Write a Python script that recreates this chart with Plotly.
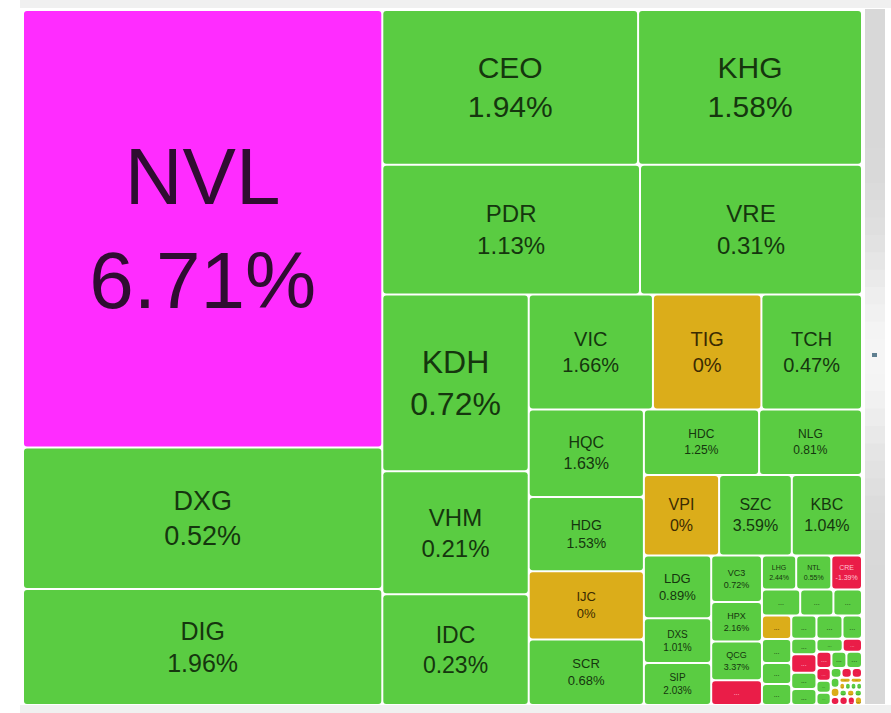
import math
import plotly.graph_objects as go

# ---------------- data ----------------
# nested groups (id, parent) – the tiles are partitioned alternately in columns / rows
groups = [
    ("root", ""),
    ("A", "root"), ("B", "root"),
    ("B1", "B"), ("B2", "B"), ("B3", "B"),
    ("C1", "B3"), ("C2", "B3"),
    ("D1", "C2"), ("D2", "C2"),
    ("E1", "D2"), ("E2", "D2"),
    ("F1", "E2"), ("F2", "E2"), ("F3", "E2"),
    ("G1", "F3"), ("G2", "F3"), ("G3", "F3"),
    ("H1", "G3"), ("H2", "G3"), ("H3", "G3"),
    ("I1", "H3"), ("I2", "H3"), ("I3", "H3"),
    ("J1", "I3"), ("J2", "I3"), ("J3", "I3"), ("J4", "I3"),
    ("K1", "J4"), ("K2", "J4"),
    ("L1", "K2"), ("L2", "K2"),
    ("M1", "L2"), ("M2", "L2"),
    ("N1", "M2"), ("N2", "M2"), ("N3", "M2"), ("N4", "M2"),
]

tickers = ["NVL", "DXG", "DIG",
           "CEO", "KHG",
           "PDR", "VRE",
           "KDH", "VHM", "IDC",
           "VIC", "TIG", "TCH",
           "HQC", "HDG", "IJC", "SCR",
           "HDC", "NLG",
           "VPI", "SZC", "KBC",
           "LDG", "DXS", "SIP",
           "VC3", "HPX", "QCG", None,
           "LHG", "NTL", "CRE",
           None, None, None,
           None, None, None, None,
           None, None, None, None, None,
           None, None,
           None, None,
           None, None, None,
           None, None, None,
           None, None, None,
           None, None, None,
           None, None,
           None, None, None, None,
           None, None, None,
           None, None, None]
changes = [6.71, 0.52, 1.96,
           1.94, 1.58,
           1.13, 0.31,
           0.72, 0.21, 0.23,
           1.66, 0, 0.47,
           1.63, 1.53, 0, 0.68,
           1.25, 0.81,
           0, 3.59, 1.04,
           0.89, 1.01, 2.03,
           0.72, 2.16, 3.37, None,
           2.44, 0.55, -1.39] + [None] * 42
values = [1561, 505, 414,
          393, 344,
          332, 286,
          257, 179, 161,
          142, 124, 115,
          100, 85, 78, 75,
          75, 67,
          60, 58, 56,
          42, 30, 28,
          23.5, 19.9, 19.5, 12.5,
          11.6, 11.9, 10.4,
          9.9, 8.6, 7.4,
          6.8, 7.0, 6.1, 6.1,
          5.8, 3.9, 4.6, 4.1, 4.0,
          6.0, 4.5,
          3.4, 2.5,
          2.4, 2.4, 2.5,
          1.8, 1.7, 1.75,
          1.05, 1.0, 1.0,
          0.85, 0.8, 0.7,
          0.55, 0.55,
          0.4, 0.4, 0.4, 0.4,
          0.5, 0.5, 0.5,
          0.7, 0.6, 0.6]
status = ["ceil", "up", "up",
          "up", "up",
          "up", "up",
          "up", "up", "up",
          "up", "ref", "up",
          "up", "up", "ref", "up",
          "up", "up",
          "ref", "up", "up",
          "up", "up", "up",
          "up", "up", "up", "down",
          "up", "up", "down",
          "up", "up", "up",
          "ref", "up", "up", "up",
          "up", "up", "down", "up", "up",
          "up", "up",
          "up", "down",
          "down", "up", "up",
          "down", "up", "up",
          "up", "down", "down",
          "up", "ref", "down",
          "ref", "ref",
          "ref", "up", "up", "up",
          "up", "ref", "up",
          "down", "down", "ref"]
group_of = (["A"] * 3 + ["B1"] * 2 + ["B2"] * 2 + ["C1"] * 3 + ["D1"] * 3 + ["E1"] * 4
            + ["F1"] * 2 + ["F2"] * 3 + ["G1"] * 3 + ["G2"] * 4 + ["H1"] * 3 + ["H2"] * 3
            + ["I1"] * 4 + ["I2"] * 5 + ["J1"] * 2 + ["J2"] * 2 + ["J3"] * 3 + ["K1"] * 3
            + ["L1"] * 3 + ["M1"] * 3 + ["N1"] * 2 + ["N2"] * 4 + ["N3"] * 3 + ["N4"] * 3)

# ---------------- styles ----------------
FILL = {"ceil": "#ff2cff", "up": "#5acc42", "ref": "#dbad1a", "down": "#ea1d48"}
INK = {"ceil": "#2f0d31", "up": "#15360e", "ref": "#3b2b02", "down": "#ffc4d0"}
FONT = {"NVL": 80, "DXG": 27, "DIG": 25, "CEO": 30, "KHG": 30, "PDR": 24, "VRE": 24,
        "KDH": 32, "VHM": 24, "IDC": 23, "VIC": 20, "TIG": 20, "TCH": 20,
        "HQC": 16, "HDG": 14, "IJC": 13, "SCR": 13, "HDC": 12, "NLG": 12,
        "VPI": 16, "SZC": 16, "KBC": 16, "LDG": 13, "DXS": 10, "SIP": 10,
        "VC3": 9, "HPX": 9, "QCG": 9, "LHG": 7, "NTL": 7, "CRE": 7}

ids, parents, labels, vals, colors, texts, sizes, inks = [], [], [], [], [], [], [], []
for gid, par in groups:
    ids.append(gid); parents.append(par); labels.append(gid); vals.append(0)
    colors.append("#ffffff"); texts.append(" "); sizes.append(10); inks.append("#000")

for i, (t, c, v, s, g) in enumerate(zip(tickers, changes, values, status, group_of)):
    ids.append(t if t else f"x{i}")
    parents.append(g)
    labels.append(t if t else "...")
    vals.append(v)
    colors.append(FILL[s])
    inks.append(INK[s])
    if t:
        texts.append(f"{t}<br>{c:g}%")
        sizes.append(FONT[t])
    else:
        texts.append("...")
        sizes.append(7)

W, H = 891, 713
fig = go.Figure(go.Treemap(
    ids=ids, parents=parents, labels=labels, values=vals,
    branchvalues="remainder", sort=False,
    text=texts, textinfo="text",
    textposition="middle center",
    textfont=dict(family="Liberation Sans, Arial, sans-serif", size=sizes, color=inks),
    marker=dict(colors=colors, line=dict(width=0, color="#ffffff"),
                pad=dict(t=0, l=0, r=0, b=0), cornerradius=3, depthfade=False),
    tiling=dict(packing="slice-dice", pad=2),
    pathbar=dict(visible=False),
    hoverinfo="skip",
    domain=dict(x=[24 / W, 861 / W], y=[1 - 704 / H, 1 - 11 / H]),
))


def px(x):
    return x / W


def py(y):
    return 1 - y / H


shapes = [
    dict(type="rect", xref="paper", yref="paper", x0=px(20), x1=px(891), y0=py(0), y1=py(8),
         fillcolor="#f0f0f0", line=dict(width=0), layer="below"),
    dict(type="rect", xref="paper", yref="paper", x0=px(20), x1=px(891), y0=py(705), y1=py(713),
         fillcolor="#f0f0f0", line=dict(width=0), layer="below"),
]
# scrollbar with soft vertical highlight (overlapping bands)
n = 40
y_top, y_bot = 9, 704
for k in range(n):
    a = y_top + (y_bot - y_top) * k / n
    b = y_top + (y_bot - y_top) * (k + 1) / n
    mid = (a + b) / 2
    lv = int(216 + 30 * math.exp(-((mid - 356) / 110) ** 2))
    shapes.append(dict(type="rect", xref="paper", yref="paper", x0=px(865), x1=px(885),
                       y0=py(min(b + 2, y_bot)), y1=py(a), fillcolor=f"rgb({lv},{lv},{lv})",
                       line=dict(width=0), layer="below"))
shapes.append(dict(type="rect", xref="paper", yref="paper", x0=px(872), x1=px(877),
                   y0=py(357), y1=py(353), fillcolor="#5f7f90", line=dict(width=0)))

fig.update_layout(width=W, height=H, margin=dict(l=0, r=0, t=0, b=0),
                  paper_bgcolor="#ffffff", shapes=shapes, showlegend=False)
fig.write_html("out.html")
